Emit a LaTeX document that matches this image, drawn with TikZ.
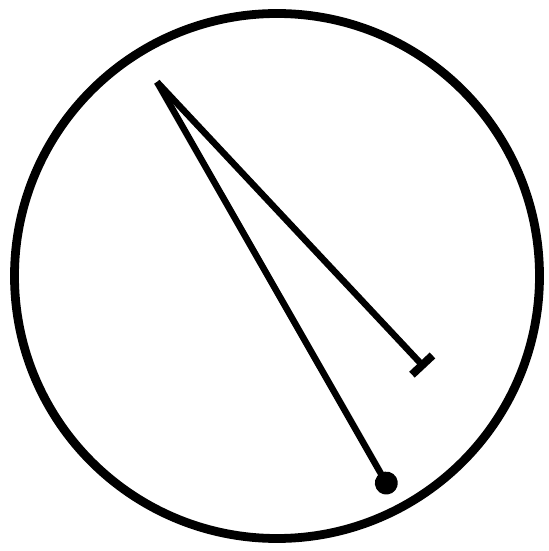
\documentclass[tikz,border=0pt]{standalone}
\usepackage{tikz}
\usetikzlibrary{arrows.meta}

\begin{document}
\begin{tikzpicture}[
    rim/.style={draw, line width=5pt},
    hand/.style={line width=3.7pt},
    tbar/.style={hand, -{Bar[width=16pt, line width=4.6pt]}},
    tdot/.style={hand, -{Circle[length=13pt]}}
]
\useasboundingbox (0,0) rectangle (10.96,11.02);
\node[rim, circle, minimum size=10.5cm, inner sep=0pt] (dial) at (5.54,5.5) {};

\coordinate (pivot) at (3.14,9.38);
\coordinate (barend) at (8.5,3.66);
\coordinate (dotend) at (7.84,1.16);

\draw[tbar] (pivot) -- (barend);
\draw[tdot] (pivot) -- (dotend);
\end{tikzpicture}
\end{document}
